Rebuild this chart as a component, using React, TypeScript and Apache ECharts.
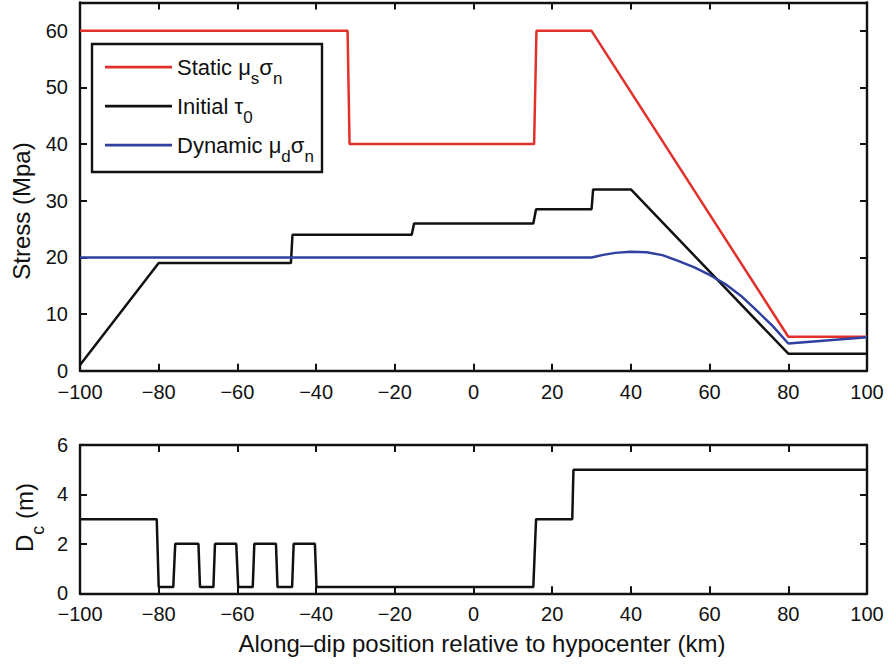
import React, { useEffect, useRef } from "react";
import * as echarts from "echarts";

const FONT = '"Liberation Sans", Arial, Helvetica, sans-serif';
const INK = "#111111";
const RED = "#e2302a";
const BLUE = "#2f40a0";

// x range (km) and y ranges
const X_MIN = -100;
const X_MAX = 100;
const X_STEP = 20;
const STRESS_MAX = 65;
const STRESS_STEP = 10;
const DC_MAX = 6;
const DC_STEP = 2;

// Static mu_s sigma_n
const staticX = [-100, -32, -31.5, 15.4, 16, 30, 80, 100];
const staticY = [60, 60, 40, 40, 60, 60, 6, 6];

// Initial tau_0
const initialX = [-100, -80, -46.4, -46, -15.7, -15.1, 15.2, 15.9, 30, 30.4, 40, 80, 100];
const initialY = [1, 19, 19, 24, 24, 26, 26, 28.5, 28.5, 32, 32, 3, 3];

// Dynamic mu_d sigma_n
const dynamicX = [-100, 30, 33, 36, 40, 44, 48, 52, 56, 60, 64, 68, 72, 76, 80, 100];
const dynamicY = [20, 20, 20.45, 20.8, 21.0, 20.9, 20.4, 19.4, 18.3, 16.9, 15.3, 13.2, 10.6, 7.9, 4.8, 5.9];

// D_c (m)
const dcX = [-100, -80.5, -80, -76.3, -75.8, -69.9, -69.5, -66.1, -65.7, -60.3, -59.8, -56.1, -55.7, -50.2, -49.8, -46.1, -45.7, -40.3, -39.9, 15.2, 15.9, 25.1, 25.4, 100];
const dcY = [3, 3, 0.25, 0.25, 2, 2, 0.25, 0.25, 2, 2, 0.25, 0.25, 2, 2, 0.25, 0.25, 2, 2, 0.25, 0.25, 3, 3, 5, 5];

const legendNames = ["Static", "Initial", "Dynamic"];
const legendLabels: Record<string, string> = {
  Static: "{a|Static \u03bc}{s|s}{a|\u03c3}{s|n}",
  Initial: "{a|Initial \u03c4}{s|0}",
  Dynamic: "{a|Dynamic \u03bc}{s|d}{a|\u03c3}{s|n}",
};

const pairs = (xs: number[], ys: number[]) => xs.map((x, i) => [x, ys[i]]);

const fmtX = (v: number) => (v < 0 ? "\u2212" + Math.abs(v) : String(v));

const AXIS_W = 2.4;

function xAxisDef(gridIndex: number, position: "top" | "bottom", labels: boolean) {
  return {
    gridIndex,
    type: "value",
    min: X_MIN,
    max: X_MAX,
    interval: X_STEP,
    position,
    axisLine: { show: true, onZero: false, lineStyle: { color: INK, width: AXIS_W } },
    axisTick: { show: true, inside: true, length: 7, lineStyle: { color: INK, width: 2 } },
    axisLabel: {
      show: labels,
      fontSize: 20,
      fontFamily: FONT,
      color: INK,
      margin: 11,
      formatter: fmtX,
    },
    splitLine: { show: false },
  };
}

function yAxisDef(gridIndex: number, position: "left" | "right", labels: boolean, max: number, step: number) {
  return {
    gridIndex,
    type: "value",
    min: 0,
    max,
    interval: step,
    position,
    axisLine: { show: true, onZero: false, lineStyle: { color: INK, width: AXIS_W } },
    axisTick: { show: true, inside: true, length: 7, lineStyle: { color: INK, width: 2 } },
    axisLabel: {
      show: labels,
      fontSize: 20,
      fontFamily: FONT,
      color: INK,
      margin: 12,
      showMaxLabel: max % step === 0,
      formatter: (v: number) => (v % step === 0 ? String(v) : ""),
    },
    splitLine: { show: false },
  };
}

export default function App() {
  const ref = useRef<HTMLDivElement>(null);

  useEffect(() => {
    if (!ref.current) return;
    const chart = echarts.init(ref.current, null, { renderer: "svg" });

    const lineSeries = (name: string, data: number[][], color: string, xi: number, yi: number) => ({
      type: "line",
      name,
      xAxisIndex: xi,
      yAxisIndex: yi,
      data,
      symbol: "none",
      showSymbol: false,
      color,
      itemStyle: { color },
      lineStyle: { color, width: 2.5 },
      emphasis: { disabled: true },
      silent: true,
    });

    const option: any = {
      animation: false,
      backgroundColor: "#ffffff",
      grid: [
        { left: 80, width: 787, top: 2.5, height: 368.2 },
        { left: 80, width: 787, top: 445, height: 148.3 },
      ],
      xAxis: [
        xAxisDef(0, "bottom", true),
        xAxisDef(0, "top", false),
        xAxisDef(1, "bottom", true),
        xAxisDef(1, "top", false),
      ],
      yAxis: [
        yAxisDef(0, "left", true, STRESS_MAX, STRESS_STEP),
        yAxisDef(0, "right", false, STRESS_MAX, STRESS_STEP),
        yAxisDef(1, "left", true, DC_MAX, DC_STEP),
        yAxisDef(1, "right", false, DC_MAX, DC_STEP),
      ],
      legend: {
        data: legendNames,
        orient: "vertical",
        left: 105,
        top: 47.7,
        padding: 0,
        itemGap: 0,
        itemWidth: 67,
        itemHeight: 2.8,
        icon: "rect",
        selectedMode: false,
        z: 5,
        formatter: (name: string) => legendLabels[name],
        textStyle: {
          rich: {
            a: { fontSize: 22, fontFamily: FONT, color: INK, lineHeight: 24, verticalAlign: "middle" },
            s: {
              fontSize: 17,
              fontFamily: FONT,
              color: INK,
              lineHeight: 18,
              padding: [22, 0, 0, 0],
              verticalAlign: "middle",
            },
          },
        },
      },
      graphic: [
        {
          type: "rect",
          z: 3,
          shape: { x: 92, y: 44, width: 230, height: 128 },
          style: { fill: "#ffffff", stroke: INK, lineWidth: AXIS_W },
          silent: true,
        },
        {
          type: "text",
          x: 21,
          y: 211,
          rotation: Math.PI / 2,
          style: {
            text: "Stress (Mpa)",
            fontSize: 24,
            fontFamily: FONT,
            fill: INK,
            align: "center",
            verticalAlign: "middle",
          },
        },
        {
          type: "text",
          x: 24,
          y: 517.5,
          rotation: Math.PI / 2,
          style: {
            text: "{a|D}{c|c}{a| (m)}",
            align: "center",
            verticalAlign: "middle",
            rich: {
              a: { fontSize: 24, fontFamily: FONT, fill: INK, color: INK, lineHeight: 26, verticalAlign: "middle" },
              c: {
                fontSize: 18,
                fontFamily: FONT,
                fill: INK,
                color: INK,
                lineHeight: 18,
                padding: [28, 0, 0, 0],
                verticalAlign: "middle",
              },
            },
          },
        },
        {
          type: "text",
          x: 482,
          y: 643,
          style: {
            text: "Along\u2013dip position relative to hypocenter (km)",
            fontSize: 24,
            fontFamily: FONT,
            fill: INK,
            align: "center",
            verticalAlign: "middle",
          },
        },
      ],
      series: [
        lineSeries("Static", pairs(staticX, staticY), RED, 0, 0),
        lineSeries("Initial", pairs(initialX, initialY), INK, 0, 0),
        lineSeries("Dynamic", pairs(dynamicX, dynamicY), BLUE, 0, 0),
        lineSeries("Dc", pairs(dcX, dcY), INK, 2, 2),
      ],
    };

    chart.setOption(option);
    return () => chart.dispose();
  }, []);

  return (
    <div
      ref={ref}
      style={{ position: "fixed", left: 0, top: 0, width: 889, height: 664, background: "#fff" }}
    />
  );
}
